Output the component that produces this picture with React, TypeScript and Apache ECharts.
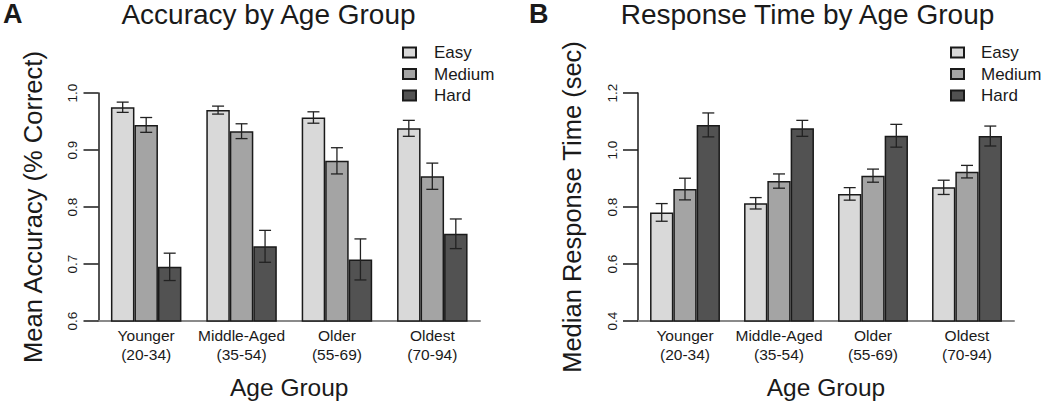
import React, { useEffect, useRef } from "react";
import * as echarts from "echarts";

const categories = ["Younger\n(20-34)", "Middle-Aged\n(35-54)", "Older\n(55-69)", "Oldest\n(70-94)"];
const levels = ["Easy", "Medium", "Hard"];

const accuracyEasy = [0.975, 0.97, 0.957, 0.938];
const accuracyMedium = [0.944, 0.933, 0.881, 0.854];
const accuracyHard = [0.695, 0.731, 0.708, 0.753];
const accuracyErrEasy = [0.009, 0.007, 0.01, 0.014];
const accuracyErrMedium = [0.013, 0.013, 0.023, 0.023];
const accuracyErrHard = [0.024, 0.028, 0.036, 0.026];

const rtEasy = [0.781, 0.813, 0.846, 0.869];
const rtMedium = [0.863, 0.891, 0.91, 0.924];
const rtHard = [1.088, 1.076, 1.05, 1.049];
const rtErrEasy = [0.031, 0.02, 0.022, 0.025];
const rtErrMedium = [0.038, 0.025, 0.023, 0.022];
const rtErrHard = [0.042, 0.028, 0.04, 0.035];

const accuracyTicks = { min: 0.6, max: 1.0, interval: 0.1 };
const rtTicks = { min: 0.4, max: 1.2, interval: 0.2 };

const FONT = "'Liberation Sans', Arial, Helvetica, sans-serif";
const fills = ["#d9d9d9", "#a4a4a4", "#525252"];
const INK = "#1a1a1a";

export default function App() {
  const ref = useRef<HTMLDivElement>(null);
  useEffect(() => {
    if (!ref.current) return;
    const chart = echarts.init(ref.current, null, { renderer: "svg" });

    const grids = [
      { left: 98.5, width: 381.5, top: 93, bottom: 84 },
      { left: 638, width: 376, top: 93, bottom: 84 },
    ];
    const barWidths = [23.5, 23.3];
    const means = [
      [accuracyEasy, accuracyMedium, accuracyHard],
      [rtEasy, rtMedium, rtHard],
    ];
    const errs = [
      [accuracyErrEasy, accuracyErrMedium, accuracyErrHard],
      [rtErrEasy, rtErrMedium, rtErrHard],
    ];
    const ticks = [accuracyTicks, rtTicks];
    const yNames = ["Mean Accuracy (% Correct)", "Median Response Time (sec)"];

    const xAxis = grids.map((_, i) => ({
      type: "category",
      gridIndex: i,
      data: categories,
      axisLine: { show: true, lineStyle: { color: "#8a8a8a", width: 2 } },
      axisTick: { show: false },
      axisLabel: { fontFamily: FONT, fontSize: 15.5, color: INK, lineHeight: 19, margin: 5, interval: 0 },
      name: "Age Group",
      nameLocation: "middle",
      nameGap: 54,
      nameTextStyle: { fontFamily: FONT, fontSize: 24.5, color: INK },
    }));

    const yAxis = grids.map((_, i) => ({
      type: "value",
      gridIndex: i,
      min: ticks[i].min,
      max: ticks[i].max,
      interval: ticks[i].interval,
      splitLine: { show: false },
      axisLine: { show: true, lineStyle: { color: INK, width: 1.5 } },
      axisTick: { show: true, length: 15, lineStyle: { color: INK, width: 1.5 } },
      axisLabel: {
        rotate: 90,
        margin: 19,
        fontFamily: FONT,
        fontSize: 13.5,
        color: INK,
        formatter: (v: number) => v.toFixed(1),
      },
      name: yNames[i],
      nameLocation: "middle",
      nameGap: 53,
      nameTextStyle: { fontFamily: FONT, fontSize: 25.5, color: INK },
    }));

    const series: any[] = [];
    grids.forEach((_, g) => {
      levels.forEach((lv, k) => {
        series.push({
          type: "bar",
          name: lv,
          xAxisIndex: g,
          yAxisIndex: g,
          data: means[g][k],
          barWidth: barWidths[g],
          barGap: "0%",
          itemStyle: { color: fills[k], borderColor: INK, borderWidth: 1.5 },
          clip: true,
          z: 2,
        });
      });
      const errData: number[][] = [];
      levels.forEach((_, k) => {
        means[g][k].forEach((m, c) => errData.push([c, m, errs[g][k][c], k]));
      });
      const bw = barWidths[g];
      series.push({
        type: "custom",
        name: "err" + g,
        xAxisIndex: g,
        yAxisIndex: g,
        data: errData,
        encode: { x: 0, y: 1 },
        z: 5,
        renderItem: (params: any, api: any) => {
          const c = api.value(0);
          const m = api.value(1);
          const e = api.value(2);
          const k = api.value(3);
          const hi = api.coord([c, m + e]);
          const lo = api.coord([c, m - e]);
          const x = hi[0] + (k - 1) * bw;
          const cap = 6;
          const st = { stroke: "#222", lineWidth: 1.3 };
          return {
            type: "group",
            children: [
              { type: "line", shape: { x1: x, y1: hi[1], x2: x, y2: lo[1] }, style: st },
              { type: "line", shape: { x1: x - cap, y1: hi[1], x2: x + cap, y2: hi[1] }, style: st },
              { type: "line", shape: { x1: x - cap, y1: lo[1], x2: x + cap, y2: lo[1] }, style: st },
            ],
          };
        },
      });
    });

    const legendCommon = {
      orient: "vertical",
      data: levels,
      icon: "rect",
      itemWidth: 13,
      itemHeight: 10,
      itemGap: 4.5,
      padding: 0,
      selectedMode: false,
    };
    const legendText = (pad: number) => ({
      fontFamily: FONT,
      fontSize: 17,
      color: INK,
      lineHeight: 17,
      padding: [0, 0, 0, pad],
    });

    const textStyle = (font: string) => ({
      font,
      fill: INK,
      textAlign: "center",
      align: "center",
      textVerticalAlign: "top",
      verticalAlign: "top",
    });

    chart.setOption({
      animation: false,
      grid: grids,
      xAxis,
      yAxis,
      series,
      legend: [
        { ...legendCommon, left: 402, top: 44, textStyle: legendText(13) },
        { ...legendCommon, left: 950, top: 44, textStyle: legendText(12) },
      ],
      graphic: [
        { type: "text", x: 3, y: 0, style: { ...textStyle(`bold 27px ${FONT}`), text: "A", textAlign: "left", align: "left" } },
        { type: "text", x: 268.5, y: 0, style: { ...textStyle(`28px ${FONT}`), text: "Accuracy by Age Group" } },
        { type: "text", x: 529, y: 0, style: { ...textStyle(`bold 27px ${FONT}`), text: "B", textAlign: "left", align: "left" } },
        { type: "text", x: 807.5, y: 0, style: { ...textStyle(`28px ${FONT}`), text: "Response Time by Age Group" } },
      ],
    });
    return () => chart.dispose();
  }, []);
  return (
    <div
      ref={ref}
      style={{ position: "fixed", left: 0, top: 0, width: 1050, height: 405, background: "#fff" }}
    />
  );
}
